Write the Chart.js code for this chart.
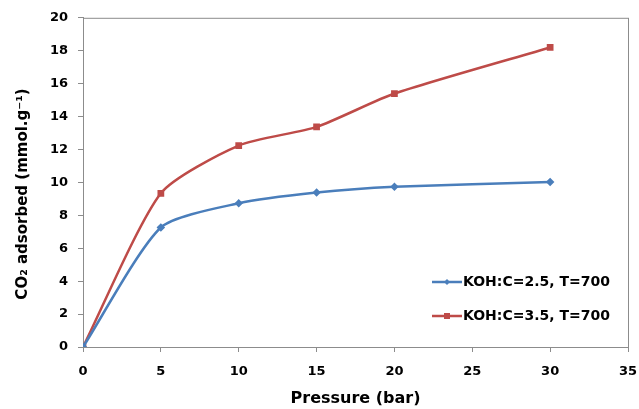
<!DOCTYPE html>
<html>
<head>
<meta charset="utf-8">
<script src="https://cdn.jsdelivr.net/npm/chart.js@4.4.1/dist/chart.umd.min.js"></script>
<style>
  html, body { margin: 0; padding: 0; background: #fff; }
  #wrap { width: 639px; height: 409px; }
</style>
</head>
<body>
<div id="wrap"><canvas id="co2Chart" width="639" height="409"></canvas></div>
<script>
// data
const pressure = [0, 5, 10, 15, 20, 30];
const kohC25 = [0, 7.26, 8.73, 9.38, 9.73, 10.03];
const kohC35 = [0, 9.34, 12.24, 13.37, 15.4, 18.2];
const seriesLabels = ['KOH:C=2.5, T=700', 'KOH:C=3.5, T=700'];
const xTicks = [0, 5, 10, 15, 20, 25, 30, 35];
const yTicks = [0, 2, 4, 6, 8, 10, 12, 14, 16, 18, 20];
const yTitle = 'CO\u2082 adsorbed (mmol.g\u207B\u00B9)';

const FONT = '"DejaVu Sans", sans-serif';
const axisGrey = '#8c8c8c';

// box around the plot area (top + right sides like Excel)
const frame = {
  id: 'frame',
  beforeDatasetsDraw(chart) {
    const { ctx, chartArea: a } = chart;
    ctx.save();
    ctx.strokeStyle = axisGrey;
    ctx.lineWidth = 1;
    ctx.strokeRect(a.left + 0.5, a.top + 0.5, a.right - a.left, a.bottom - a.top);
    ctx.restore();
  }
};

// y title sits a bit below the plot centre in the original, so draw it by hand
const yTitlePlugin = {
  id: 'yTitlePlugin',
  afterDraw(chart) {
    const { ctx } = chart;
    ctx.save();
    ctx.translate(23, 194);
    ctx.rotate(-Math.PI / 2);
    ctx.fillStyle = '#000';
    ctx.font = 'bold 15px ' + FONT;
    ctx.textAlign = 'center';
    ctx.textBaseline = 'middle';
    ctx.fillText(yTitle, 0, 0);
    ctx.restore();
  }
};

// legend drawn inside the plot, bottom right
const innerLegend = {
  id: 'innerLegend',
  afterDraw(chart) {
    const { ctx } = chart;
    const x0 = 432, x1 = 462;
    const rows = [282, 316];
    ctx.save();
    chart.data.datasets.forEach((ds, i) => {
      const y = rows[i];
      ctx.strokeStyle = ds.borderColor;
      ctx.lineWidth = 2.5;
      ctx.beginPath();
      ctx.moveTo(x0, y);
      ctx.lineTo(x1, y);
      ctx.stroke();
      ctx.fillStyle = ds.borderColor;
      const mx = (x0 + x1) / 2;
      if (ds.pointStyle === 'rect') {
        ctx.fillRect(mx - 3, y - 3, 6, 6);
      } else {
        ctx.beginPath();
        ctx.moveTo(mx, y - 3);
        ctx.lineTo(mx + 3, y);
        ctx.lineTo(mx, y + 3);
        ctx.lineTo(mx - 3, y);
        ctx.closePath();
        ctx.fill();
      }
      ctx.fillStyle = '#000';
      ctx.font = 'bold 14px ' + FONT;
      ctx.textBaseline = 'middle';
      ctx.textAlign = 'left';
      ctx.fillText(ds.label, x1 + 1, y);
    });
    ctx.restore();
  }
};

const ctx = document.getElementById('co2Chart').getContext('2d');

new Chart(ctx, {
  type: 'line',
  data: {
    datasets: [
      {
        label: seriesLabels[0],
        data: pressure.map((p, i) => ({ x: p, y: kohC25[i] })),
        borderColor: '#4a7ebb',
        backgroundColor: '#4a7ebb',
        borderWidth: 2.5,
        pointStyle: 'rectRot',
        pointRadius: 2.5,
        tension: 0.22,
        fill: false
      },
      {
        label: seriesLabels[1],
        data: pressure.map((p, i) => ({ x: p, y: kohC35[i] })),
        borderColor: '#be4b48',
        backgroundColor: '#be4b48',
        borderWidth: 2.5,
        pointStyle: 'rect',
        pointRadius: 3,
        tension: 0.22,
        fill: false
      }
    ]
  },
  options: {
    responsive: false,
    animation: false,
    layout: { padding: { top: 16, right: 11, left: 0, bottom: 0 } },
    scales: {
      x: {
        type: 'linear',
        min: 0,
        max: 35,
        afterBuildTicks: s => { s.ticks = xTicks.map(v => ({ value: v })); },
        afterFit: s => {
          s.height = 62;
          s.paddingLeft = 0;
          s.paddingRight = 0;
        },
        border: { display: true, color: axisGrey, width: 1 },
        grid: { drawOnChartArea: false, color: axisGrey, tickLength: 5 },
        ticks: { color: '#000', padding: 12, font: { family: FONT, size: 13, weight: 'bold' } },
        title: {
          display: true,
          text: 'Pressure (bar)',
          color: '#000',
          padding: { top: 0, bottom: 1 },
          font: { family: FONT, size: 16, weight: 'bold' }
        }
      },
      y: {
        min: 0,
        max: 20,
        afterBuildTicks: s => { s.ticks = yTicks.map(v => ({ value: v })); },
        afterFit: s => { s.width = 83; },
        border: { display: true, color: axisGrey, width: 1 },
        grid: { drawOnChartArea: false, color: axisGrey, tickLength: 5 },
        ticks: { color: '#000', padding: 10, font: { family: FONT, size: 13, weight: 'bold' } },
        title: { display: false }
      }
    },
    plugins: {
      legend: { display: false },
      tooltip: { enabled: false }
    }
  },
  plugins: [frame, yTitlePlugin, innerLegend]
});
</script>
</body>
</html>
